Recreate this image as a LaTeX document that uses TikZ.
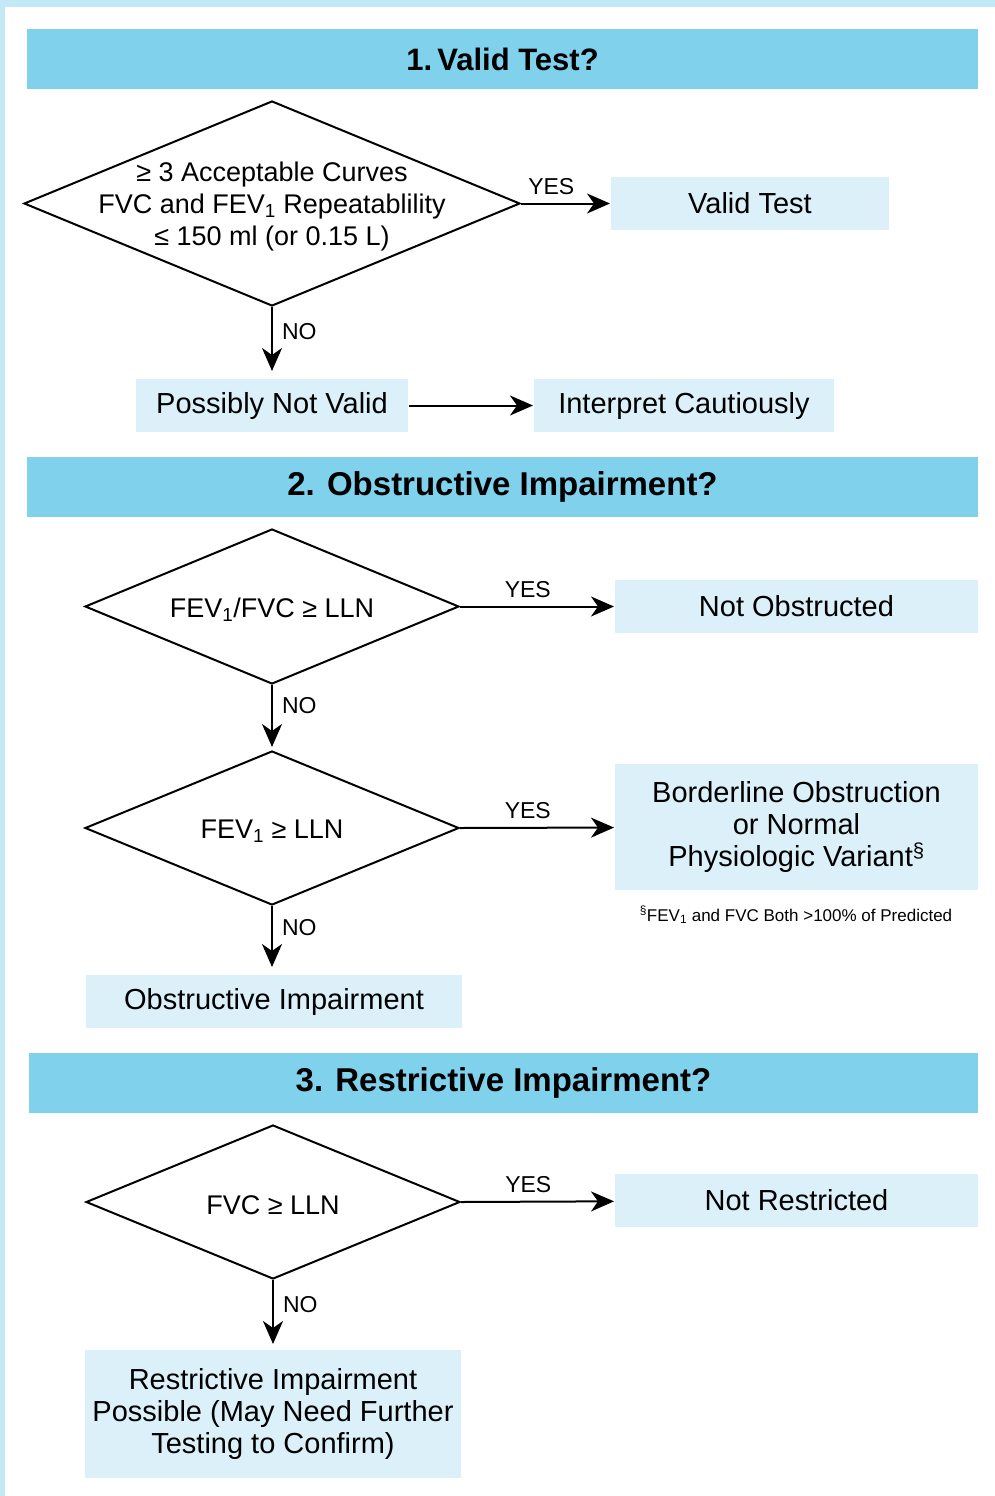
\documentclass[tikz,border=0pt]{standalone}
\usepackage{fontspec}
\setmainfont{Liberation Sans}
\usetikzlibrary{arrows.meta,shapes.geometric,positioning}
\definecolor{headblue}{RGB}{127,209,236}
\definecolor{boxblue}{RGB}{220,240,249}
\definecolor{rimblue}{RGB}{195,232,246}

\begin{document}
\begin{tikzpicture}[x=1pt,y=-1pt,>={Stealth[length=23pt,width=20pt,inset=7pt]},line width=2pt,
		header/.style={fill=headblue,minimum width=951pt,minimum height=60pt,font=\fontsize{33}{36}\selectfont\bfseries},
		result/.style={fill=boxblue,minimum height=53pt,align=center,font=\fontsize{29}{32}\selectfont},
		test/.style={diamond,draw,inner sep=0pt},
		testtext/.style={align=center,yshift=-3pt,font=\fontsize{27}{32}\selectfont},
		answer/.style={font=\fontsize{23}{26}\selectfont,inner sep=3pt}]
		\useasboundingbox (0,0) rectangle (995,1496);
		\fill[white] (0,0) rectangle (995,1496);
		\fill[rimblue] (0,0) rectangle (995,7);
		\fill[rimblue] (0,0) rectangle (5,1496);
		% 1. valid test
		\node[header,font=\fontsize{31}{36}\selectfont\bfseries] (h_1) at (502.5,59) {1.\,Valid Test?};
		\node[test,minimum width=496pt,minimum height=205pt,
			label={[testtext]center:{≥ 3 Acceptable Curves\\FVC and FEV\textsubscript{1} Repeatablility\\≤ 150 ml (or 0.15 L)}}] (d_1) at (272,203.5) {};
		\node[result,minimum width=278pt] (valid) at (750,203.5) {Valid Test};
		\node[result,minimum width=272pt] (notvalid) at (272,405.5) {Possibly Not Valid};
		\node[result,minimum width=300pt] (caution) at (684,405.5) {Interpret Cautiously};
		% 2. obstruction
		\node[header] (h_2) at (502.5,487) {2. Obstructive Impairment?};
		\node[test,minimum width=374pt,minimum height=155pt,
			label={[testtext]center:{FEV\textsubscript{1}/FVC ≥ LLN}}] (d_2) at (272,606.5) {};
		\node[result,minimum width=363pt] (notobs) at (796.5,606.5) {Not Obstructed};
		\node[test,minimum width=374pt,minimum height=154pt,
			label={[testtext]center:{FEV\textsubscript{1} ≥ LLN}}] (d_3) at (272,828) {};
		\node[result,minimum width=363pt,minimum height=126pt] (border) at (796.5,827)
			{Borderline Obstruction\\or Normal\\Physiologic Variant\textsuperscript{§}};
		\node[font=\fontsize{17}{20}\selectfont] (note) at (796,915)
			{\textsuperscript{§}FEV\textsubscript{1} and FVC Both >100\% of Predicted};
		\node[result,minimum width=376pt] (obs) at (274,1001.5) {Obstructive Impairment};
		% 3. restriction
		\node[header,minimum width=949pt] (h_3) at (503.5,1083) {3. Restrictive Impairment?};
		\node[test,minimum width=374pt,minimum height=154pt,
			label={[testtext]center:{FVC ≥ LLN}}] (d_4) at (273,1202) {};
		\node[result,minimum width=363pt] (notres) at (796.5,1200.5) {Not Restricted};
		\node[result,minimum width=376pt,minimum height=128pt] (res) at (273,1414)
			{Restrictive Impairment\\Possible (May Need Further\\Testing to Confirm)};
		% connectors
		\draw[->] (d_1.east) -- node[answer,above=5pt,pos=0.34] {YES} (valid);
		\draw[->,shorten >=7pt] (d_1.south) -- node[answer,right=6pt,pos=0.34] {NO} (notvalid.north);
		\draw[->] (notvalid) -- (caution);
		\draw[->] (d_2.east) -- node[answer,above=5pt,pos=0.44] {YES} (notobs);
		\draw[->,shorten >=3pt] (d_2.south) -- node[answer,right=6pt,pos=0.32] {NO} (d_3.north);
		\draw[->] (d_3.east) -- node[answer,above=5pt,pos=0.44] {YES} (border);
		\draw[->,shorten >=7pt] (d_3.south) -- node[answer,right=6pt,pos=0.32] {NO} (obs.north -| d_3.south);
		\draw[->] (d_4.east) -- node[answer,above=5pt,pos=0.44] {YES} (notres);
		\draw[->,shorten >=5pt] (d_4.south) -- node[answer,right=6pt,pos=0.35] {NO} (res.north);
\end{tikzpicture}
\end{document}
